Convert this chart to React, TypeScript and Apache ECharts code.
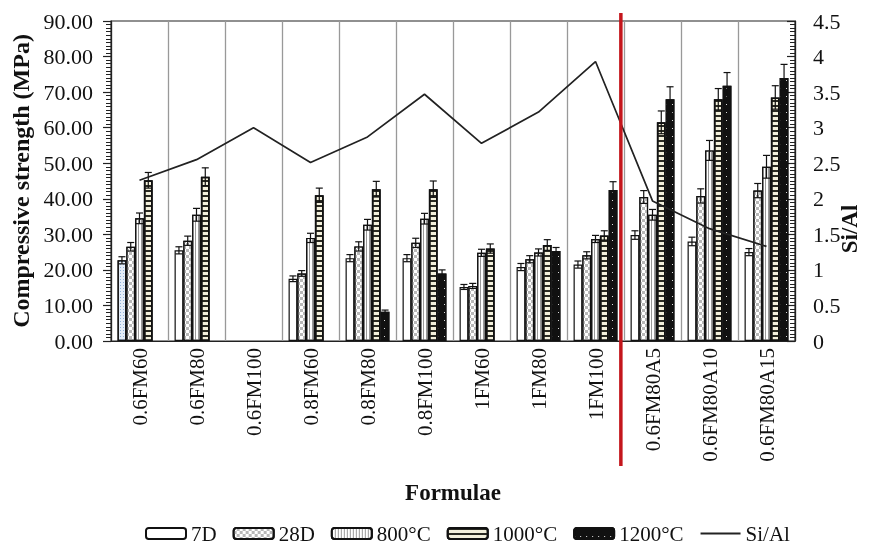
import React, { useEffect, useRef } from "react";
import * as echarts from "echarts";

const categories = [
  "0.6FM60", "0.6FM80", "0.6FM100", "0.8FM60", "0.8FM80", "0.8FM100",
  "1FM60", "1FM80", "1FM100", "0.6FM80A5", "0.6FM80A10", "0.6FM80A15",
];

const seriesNames = ["7D", "28D", "800°C", "1000°C", "1200°C"];

const v7D = [22.7, 25.5, null, 17.5, 23.3, 23.3, 15.2, 20.8, 21.5, 29.8, 28.0, 25.0];
const v28D = [26.5, 28.2, null, 19.0, 26.6, 27.6, 15.5, 23.0, 24.1, 40.5, 40.8, 42.3];
const v800 = [34.5, 35.5, null, 29.0, 32.7, 34.4, 24.8, 24.9, 28.7, 35.5, 53.6, 49.0];
const v1000 = [45.2, 46.2, null, 41.0, 42.7, 42.7, 26.0, 27.0, 29.7, 61.5, 68.0, 68.5];
const v1200 = [null, null, null, null, 8.2, 19.0, null, 25.3, 42.5, 68.0, 71.8, 74.0];

const e7D = [1.0, 1.0, null, 0.8, 1.0, 1.0, 0.7, 1.0, 1.0, 1.2, 1.2, 1.0];
const e28D = [1.2, 1.3, null, 0.8, 1.3, 1.3, 0.7, 1.0, 1.0, 1.8, 2.0, 2.0];
const e800 = [1.5, 1.8, null, 1.3, 1.5, 1.5, 1.0, 1.0, 1.0, 1.5, 2.8, 3.2];
const e1000 = [2.2, 2.5, null, 2.0, 2.2, 2.3, 1.3, 1.5, 1.3, 3.2, 3.0, 3.3];
const e1200 = [null, null, null, null, 0.5, 1.0, null, 1.0, 2.3, 3.5, 3.7, 3.8];

const siAl = [2.26, 2.55, 3.0, 2.51, 2.87, 3.47, 2.78, 3.22, 3.93, 1.97, 1.58, 1.33];

const leftTicks = { min: 0, max: 90, interval: 10 };
const rightTicks = { min: 0, max: 4.5, interval: 0.5 };

const FONT = "'Liberation Serif', 'Times New Roman', serif";
const CAT_GAP = 0.23;

export default function App() {
  const ref = useRef<HTMLDivElement>(null);

  useEffect(() => {
    if (!ref.current) return;
    const chart = echarts.init(ref.current, null, { renderer: "svg" });

    const values = [v7D, v28D, v800, v1000, v1200];
    const errs = [e7D, e28D, e800, e1000, e1200];

    const styles: any[] = [
      { color: "#ffffff" },
      {
        color: "#ffffff",
        decal: { symbol: "rect", symbolSize: 1, color: "#b8b8b8", dashArrayX: [[3, 3], [0, 3, 3, 0]], dashArrayY: [3, 0] },
      },
      {
        color: "#ffffff",
        decal: { symbol: "rect", symbolSize: 1, color: "#999999", dashArrayX: [1, 2], dashArrayY: [1, 0] },
      },
      {
        color: "#f3f0dc",
        decal: { symbol: "rect", symbolSize: 1, color: "#2a2a22", dashArrayX: [1, 0], dashArrayY: [1.4, 2.4] },
      },
      {
        color: "#111111",
        decal: { symbol: "rect", symbolSize: 1, color: "#dddddd", dashArrayX: [1, 5], dashArrayY: [1, 7] },
      },
    ];

    const barSeries = values.map((arr, si) => ({
      name: seriesNames[si],
      type: "bar",
      yAxisIndex: 0,
      barGap: "0%",
      barCategoryGap: CAT_GAP * 100 + "%",
      itemStyle: { ...styles[si], borderColor: "#111", borderWidth: si === 3 ? 1.6 : 1.2 },
      data: arr.map((v, ci) =>
        si === 0 && ci === 0 && v != null
          ? {
              value: v,
              itemStyle: {
                color: "#e4edf8",
                decal: { symbol: "rect", symbolSize: 1, color: "#8fb0d8", dashArrayX: [1, 2], dashArrayY: [1, 2] },
              },
            }
          : v
      ),
      z: 2,
    }));

    const errData: any[] = [];
    values.forEach((arr, si) => {
      arr.forEach((v, ci) => {
        const e = errs[si][ci];
        if (v != null && e != null) errData.push([ci, si, v - e, v + e]);
      });
    });

    const errSeries = {
      type: "custom",
      name: "err",
      yAxisIndex: 0,
      z: 5,
      silent: true,
      encode: { x: 0, y: [2, 3] },
      data: errData,
      renderItem: (params: any, api: any) => {
        const cat = api.value(0);
        const si = api.value(1);
        const lo = api.value(2);
        const hi = api.value(3);
        const band = api.size([1, 0])[0];
        const used = band * (1 - CAT_GAP);
        const bw = used / 5;
        const c = api.coord([cat, 0])[0] - used / 2 + bw * (si + 0.5);
        const yt = api.coord([cat, hi])[1];
        const yb = api.coord([cat, lo])[1];
        const hw = bw * 0.4;
        const st = { stroke: "#111", lineWidth: 1.2 };
        return {
          type: "group",
          children: [
            { type: "line", shape: { x1: c, y1: yt, x2: c, y2: yb }, style: st },
            { type: "line", shape: { x1: c - hw, y1: yt, x2: c + hw, y2: yt }, style: st },
            { type: "line", shape: { x1: c - hw, y1: yb, x2: c + hw, y2: yb }, style: st },
          ],
        };
      },
    };

    const option: any = {
      animation: false,
      textStyle: { fontFamily: FONT, color: "#111" },
      grid: {
        left: 111, right: 82, top: 21, bottom: 203,
        outerBoundsMode: "none",
        show: true, borderColor: "#222", borderWidth: 1.2, backgroundColor: "transparent",
      },
      legend: {
        data: [
          ...seriesNames,
          { name: "Si/Al", itemStyle: { opacity: 0 } },
        ],
        left: 140,
        top: 518,
        itemWidth: 40,
        itemHeight: 11,
        itemGap: 16,
        textStyle: { fontFamily: FONT, fontSize: 21, color: "#111" },
      },
      xAxis: {
        type: "category",
        data: categories,
        boundaryGap: true,
        axisLine: { lineStyle: { color: "#222", width: 1.2 } },
        axisTick: { show: false },
        splitLine: { show: true, interval: 0, lineStyle: { color: "#999", width: 1.3 } },
        axisLabel: { rotate: 90, interval: 0, fontSize: 21, color: "#111", fontFamily: FONT, margin: 7 },
        name: "Formulae",
        nameLocation: "middle",
        nameGap: 140,
        nameTextStyle: { fontFamily: FONT, fontSize: 23, fontWeight: "bold", color: "#111" },
      },
      yAxis: [
        {
          type: "value",
          ...leftTicks,
          position: "left",
          axisLine: { show: true, lineStyle: { color: "#222", width: 1.2 } },
          axisTick: { show: true, length: 8, lineStyle: { color: "#222", width: 1.2 } },
          minorTick: { show: true, splitNumber: 10, length: 5, lineStyle: { color: "#222", width: 1 } },
          splitLine: { show: false },
          axisLabel: { fontSize: 22, color: "#111", fontFamily: FONT, margin: 18, formatter: (v: number) => v.toFixed(2) },
          name: "Compressive strength (MPa)",
          nameLocation: "middle",
          nameGap: 78,
          nameTextStyle: { fontFamily: FONT, fontSize: 24, fontWeight: "bold", color: "#111" },
        },
        {
          type: "value",
          ...rightTicks,
          position: "right",
          axisLine: { show: true, lineStyle: { color: "#222", width: 1.2 } },
          axisTick: { show: true, inside: true, length: 8, lineStyle: { color: "#222", width: 1.2 } },
          minorTick: { show: true, splitNumber: 10, length: 5, lineStyle: { color: "#222", width: 1 } },
          splitLine: { show: false },
          axisLabel: { fontSize: 22, color: "#111", fontFamily: FONT, margin: 18 },
          name: "Si/Al",
          nameLocation: "middle",
          nameGap: 43,
          nameMoveOverlap: false,
          nameTextStyle: { fontFamily: FONT, fontSize: 23, fontWeight: "bold", color: "#111", padding: [0, 96, 0, 0] },
        },
      ],
      series: [
        ...barSeries,
        errSeries,
        {
          name: "Si/Al",
          type: "line",
          yAxisIndex: 1,
          data: siAl,
          symbol: "none",
          lineStyle: { color: "#222", width: 1.7 },
          itemStyle: { color: "#222" },
          z: 6,
        },
      ],
    };

    chart.setOption(option);

    const x8 = chart.convertToPixel({ xAxisIndex: 0 }, categories[8]) as number;
    const x9 = chart.convertToPixel({ xAxisIndex: 0 }, categories[9]) as number;
    const yTop = chart.convertToPixel({ yAxisIndex: 0 }, leftTicks.max) as number;
    const yBot = chart.convertToPixel({ yAxisIndex: 0 }, leftTicks.min) as number;
    const rx = x8 + (x9 - x8) * 0.445;
    chart.setOption({
      graphic: [
        {
          type: "line",
          z: 100,
          shape: { x1: rx, y1: yTop - 8, x2: rx, y2: yBot + 125 },
          style: { stroke: "#c4161c", lineWidth: 3.5 },
        },
      ],
    });

    return () => chart.dispose();
  }, []);

  return <div ref={ref} style={{ position: "fixed", left: 0, top: 0, width: 877, height: 544 }} />;
}
